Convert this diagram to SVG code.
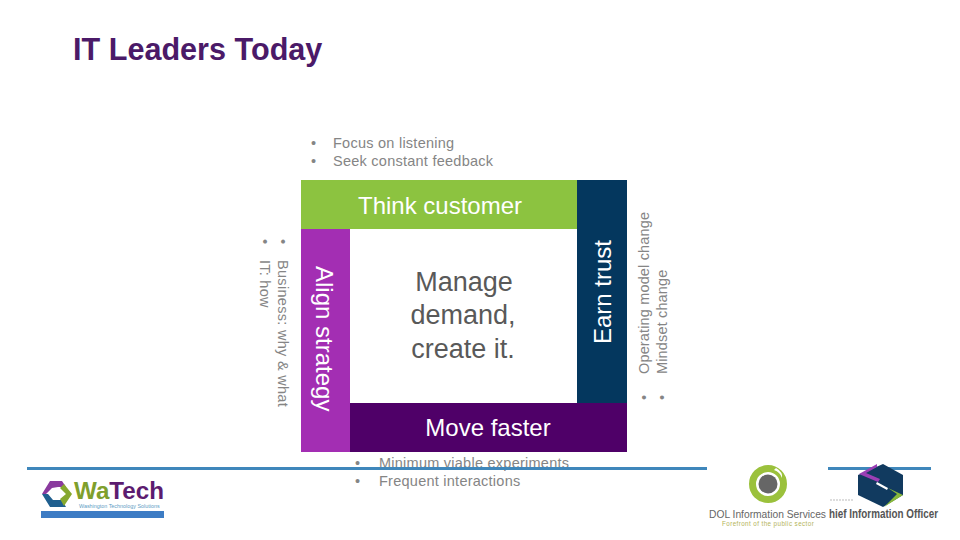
<svg xmlns="http://www.w3.org/2000/svg" width="960" height="540" viewBox="0 0 960 540">
<style>
text{font-family:"Liberation Sans",Arial,sans-serif}
.b{font-size:14.5px;fill:#858585;letter-spacing:.25px}
.h{font-size:24px;fill:#fff}
.c{font-size:27px;fill:#595959}
.rule{fill:#3f87bb}
</style>
<rect width="960" height="540" fill="#fff"/>
<text id="title" x="73" y="60" font-size="30.6" font-weight="bold" fill="#4b1a68">IT Leaders Today</text>
<g id="top-notes"><text class="b" x="311" y="148">•</text><text class="b" x="333" y="148">Focus on listening</text><text class="b" x="311" y="166">•</text><text class="b" x="333" y="166">Seek constant feedback</text></g>
<g id="think-customer"><rect x="301" y="180" width="276" height="49" fill="#8cc340"/><text class="h" x="440" y="214" text-anchor="middle">Think customer</text></g>
<g id="earn-trust"><rect x="577" y="180" width="50" height="223" fill="#04375e"/><text class="h" transform="translate(611,344) rotate(-90)">Earn trust</text></g>
<g id="move-faster"><rect x="350" y="403" width="277" height="49" fill="#4f0068"/><text class="h" x="488" y="436" text-anchor="middle">Move faster</text></g>
<g id="align-strategy"><rect x="301" y="229" width="49" height="223" fill="#a32eb3"/><text class="h" transform="translate(316,266) rotate(90)">Align strategy</text></g>
<g id="center"><text class="c" x="464" y="291" text-anchor="middle">Manage</text><text class="c" x="463" y="324" text-anchor="middle">demand,</text><text class="c" x="463" y="358" text-anchor="middle">create it.</text></g>
<g id="left-notes"><g transform="translate(278,239) rotate(90)"><text class="b" x="0" y="0">•</text><text class="b" x="21" y="0" style="letter-spacing:.3px">Business: why &amp; what</text></g><g transform="translate(260,239) rotate(90)"><text class="b" x="0" y="0">•</text><text class="b" x="21" y="0">IT: how</text></g></g>
<g id="right-notes"><g transform="translate(649,400) rotate(-90)"><text class="b" x="0" y="0">•</text><text class="b" x="26" y="0" style="letter-spacing:.15px">Operating model change</text></g><g transform="translate(667,400) rotate(-90)"><text class="b" x="0" y="0">•</text><text class="b" x="26" y="0" style="letter-spacing:.15px">Mindset change</text></g></g>
<g id="bottom-notes"><text class="b" x="355" y="468">•</text><text class="b" x="379" y="468">Minimum viable experiments</text><text class="b" x="355" y="486">•</text><text class="b" x="379" y="486">Frequent interactions</text></g>
<g id="rules"><rect class="rule" x="27" y="467" width="680" height="3"/><rect class="rule" x="828" y="467" width="103" height="3"/></g>
<g id="watech-logo">
<path d="M50 481h12l4 6h-8l-6 1-6 6h-4z" fill="#8a3a9e"/><path d="M42 494h6l5 6h9l4 7H50z" fill="#1f5f8f"/><path d="M64 484l8 10-8 12-4-7 6-5-6-6z" fill="#86a82e"/>
<text x="74" y="499" font-size="24" font-weight="bold" fill="#7f9f2c" textLength="90" lengthAdjust="spacingAndGlyphs">Wa<tspan fill="#5c1c70">Tech</tspan></text>
<text x="79" y="508" font-size="5.4" fill="#5d9cc4">Washington Technology Solutions</text>
<rect x="41" y="511" width="123" height="7" fill="#3d7cc4"/>
</g>
<g id="cio-logo">
<path d="M883 464l20 11v20l-20 12-25-12v-20z" fill="#113a5f"/>
<path d="M877 464l-18 10 19 8 2-3-14-6 11-6z" fill="#9b3fb5"/>
<path d="M877 482l11 6-1 2-11-6z" fill="#fff"/>
<path d="M888 488l15 7-19 12 13-13z" fill="#88b83a"/>
<path d="M830 500h24" stroke="#bbb" stroke-width="1" stroke-dasharray="2 1"/>
<text transform="translate(829,518) scale(.76,1)" font-size="13" font-weight="bold" fill="#555">hief Information Officer</text>
</g>
<g id="dol-logo">
<rect x="707" y="462" width="120" height="64" fill="#fff"/>
<circle cx="768" cy="484" r="15.5" fill="none" stroke="#9bc13c" stroke-width="7"/>
<path d="M776 468q7 4 6 10-2-6-8-8z" fill="#fff"/>
<circle cx="768" cy="484" r="9.5" fill="#666"/>
<text x="709" y="518" font-size="11" fill="#666" textLength="117" lengthAdjust="spacingAndGlyphs">DOL Information Services</text>
<text x="722" y="526" font-size="6.3" fill="#b4b45a" letter-spacing=".4">Forefront of the public sector</text>
</g>
</svg>
